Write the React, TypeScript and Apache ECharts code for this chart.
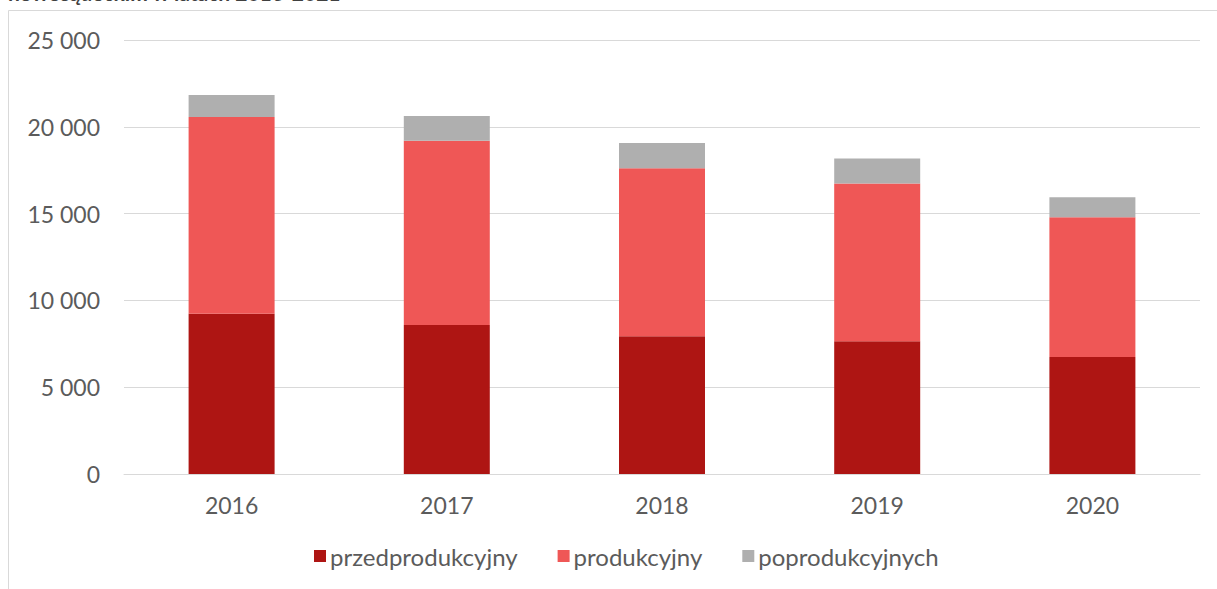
import React, { useEffect, useRef } from "react";
import * as echarts from "echarts";

const years = ["2016", "2017", "2018", "2019", "2020"];
const seriesNames = ["przedprodukcyjny", "produkcyjny", "poprodukcyjnych"];
const przedprodukcyjny = [9230, 8580, 7930, 7640, 6740];
const produkcyjny = [11330, 10620, 9680, 9100, 8050];
const poprodukcyjnych = [1270, 1420, 1460, 1440, 1150];
const colors = ["#AE1513", "#EF5756", "#AFAFAF"];
const titleText = "nowosądeckim w latach 2016-2021";

const fmt = (v: number) =>
  String(v).replace(/\B(?=(\d{3})+(?!\d))/g, " ");

export default function App() {
  const ref = useRef<HTMLDivElement>(null);
  useEffect(() => {
    if (!ref.current) return;
    const chart = echarts.init(ref.current, undefined, { renderer: "svg" });
    const font = "Lato, 'Open Sans', sans-serif";
    const dataSets = [przedprodukcyjny, produkcyjny, poprodukcyjnych];
    chart.setOption({
      animation: false,
      backgroundColor: "#ffffff",
      graphic: [
        {
          type: "rect",
          shape: { x: 8.5, y: 10.5, width: 1230, height: 620 },
          style: { fill: "none", stroke: "#d9d9d9", lineWidth: 1 },
          silent: true,
        },
        {
          type: "text",
          x: 8,
          y: 3,
          style: {
            text: titleText,
            font: "bold 21px " + font,
            fill: "#404040",
            verticalAlign: "bottom",
            align: "left",
          },
          silent: true,
        },
      ],
      grid: { left: 124, right: 17, top: 40, bottom: 115, containLabel: false },
      legend: {
        left: 309,
        top: 539,
        itemWidth: 12,
        itemHeight: 12,
        itemGap: 40,
        icon: "rect",
        data: seriesNames,
        textStyle: {
          color: "#5b5b5b",
          fontSize: 24,
          fontFamily: font,
          padding: [0, 0, 0, -1],
        },
      },
      xAxis: {
        type: "category",
        data: years,
        axisLine: { show: true, lineStyle: { color: "#d9d9d9", width: 1 } },
        axisTick: { show: false },
        axisLabel: {
          color: "#5b5b5b",
          fontSize: 23,
          fontFamily: font,
          margin: 19,
        },
      },
      yAxis: {
        type: "value",
        min: 0,
        max: 25000,
        interval: 5000,
        axisLine: { show: false },
        axisTick: { show: false },
        splitLine: { lineStyle: { color: "#d9d9d9", width: 1 } },
        axisLabel: {
          color: "#5b5b5b",
          fontSize: 23,
          fontFamily: font,
          margin: 24,
          formatter: (v: number) => fmt(v),
        },
      },
      series: seriesNames.map((name, i) => ({
        name,
        type: "bar",
        stack: "total",
        barWidth: 86,
        data: dataSets[i],
        itemStyle: { color: colors[i] },
      })),
    });
    return () => chart.dispose();
  }, []);
  return (
    <div
      ref={ref}
      style={{ position: "absolute", left: 0, top: 0, width: 1217, height: 589 }}
    />
  );
}
